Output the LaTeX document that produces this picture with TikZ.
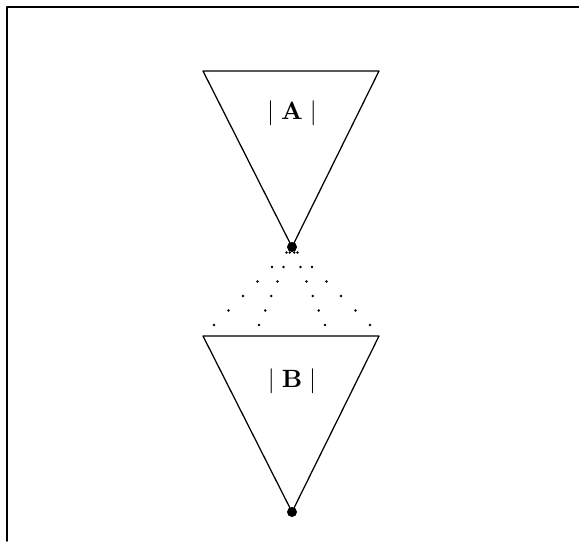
\documentclass[tikz,border=0pt]{standalone}
\usetikzlibrary{calc}
\begin{document}
\begin{tikzpicture}
% two cones joined by a dotted fan
\def\pxsz{0.4pt}
\providecommand{\coneLineWidth}{0.5pt}
\providecommand{\coneTipRadius}{2pt}
\providecommand{\fanDotRadius}{0.55pt}
\tikzset{
  conetip/.style={circle, fill=black, inner sep=0pt, minimum size=2*\coneTipRadius},
  conelabel/.style={inner sep=0pt},
}
\begin{scope}[x=\pxsz, y=-\pxsz, line cap=round, line join=round]
  \useasboundingbox (0,0) rectangle (579,541);
  % Frame (only left and top edges in view)
  \draw[line width=0.6pt] (7,541) -- (7,7) -- (579,7);
  % Upper cone
  \draw[line width=\coneLineWidth] (203,71) -- (379,71) -- (292,247) -- cycle;
  \node[conelabel] (labA) at (292,113) {$|\;\mathbf{A}\;|$};
  \node[conetip] (tipA) at (292,247) {};
  % Lower cone
  \draw[line width=\coneLineWidth] (203,336) -- (379,336) -- (292,512) -- cycle;
  \node[conelabel] (labB) at (292,381) {$|\;\mathbf{B}\;|$};
  \node[conetip] (tipB) at (292,512) {};
  % Ends of the dotted fan
  \coordinate (fanLL) at (214,325);
  \coordinate (fanL) at (259,325);
  \coordinate (fanR) at (325,325);
  \coordinate (fanRR) at (370,325);
  % Dotted fan
  \foreach \e in {fanLL,fanL,fanR,fanRR}
    \foreach \t in {0.07,0.256,0.442,0.628,0.814,1}
      \fill ($(tipA)!\t!(\e)$) circle[radius=\fanDotRadius];
\end{scope}
\end{tikzpicture}
\end{document}
